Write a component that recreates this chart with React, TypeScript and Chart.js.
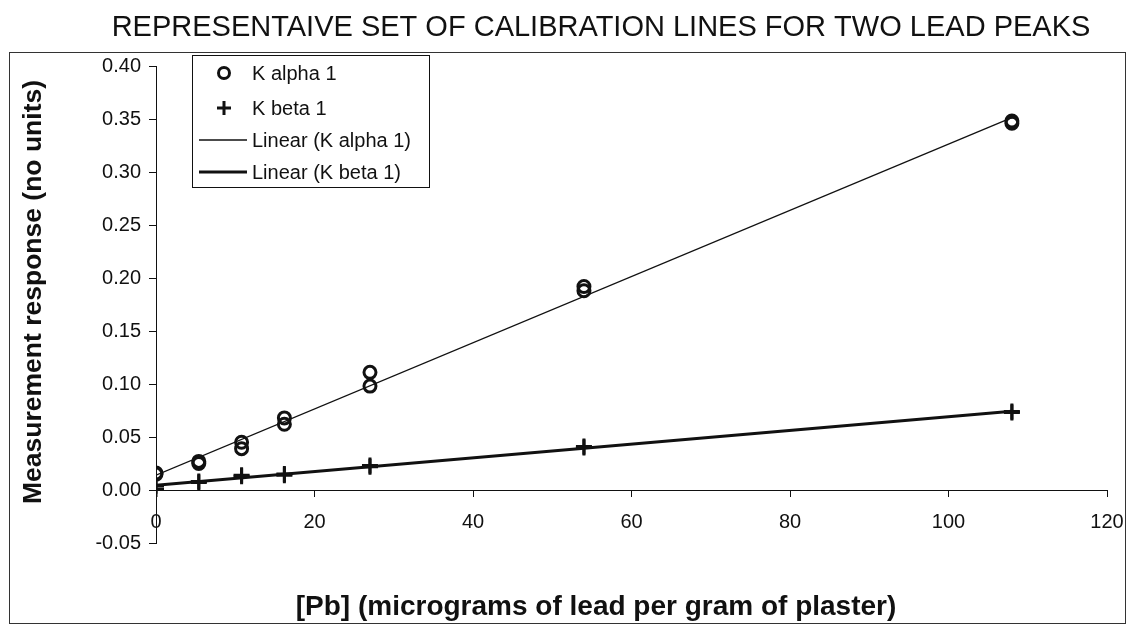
import React, { useEffect, useRef } from "react";
import { Chart, registerables } from "chart.js";

Chart.register(...registerables);

const CHART_TITLE = "REPRESENTAIVE SET OF CALIBRATION LINES FOR TWO LEAD PEAKS";
const X_TITLE = "[Pb] (micrograms of lead per gram of plaster)";
const Y_TITLE = "Measurement response (no units)";

const LEGEND_LABELS = ["K alpha 1", "K beta 1", "Linear (K alpha 1)", "Linear (K beta 1)"];

const alphaX = [0, 0, 5.4, 5.4, 10.8, 10.8, 16.2, 16.2, 27, 27, 54, 54, 108, 108];
const alphaY = [0.016, 0.015, 0.027, 0.025, 0.045, 0.039, 0.068, 0.062, 0.111, 0.098, 0.192, 0.188, 0.348, 0.346];

const betaX = [0, 0, 5.4, 5.4, 10.8, 10.8, 16.2, 16.2, 27, 27, 54, 54, 108, 108];
const betaY = [0.004, 0.001, 0.008, 0.007, 0.014, 0.013, 0.015, 0.014, 0.023, 0.022, 0.041, 0.040, 0.074, 0.073];

const X_MIN = 0;
const X_MAX = 120;
const X_STEP = 20;
const Y_MIN = -0.05;
const Y_MAX = 0.4;
const Y_STEP = 0.05;

const FONT = "'Liberation Sans', Arial, sans-serif";
const INK = "#111";

function linearFit(xs: number[], ys: number[]) {
  const n = xs.length;
  const mx = xs.reduce((a, b) => a + b, 0) / n;
  const my = ys.reduce((a, b) => a + b, 0) / n;
  let sxy = 0;
  let sxx = 0;
  for (let i = 0; i < n; i++) {
    sxy += (xs[i] - mx) * (ys[i] - my);
    sxx += (xs[i] - mx) * (xs[i] - mx);
  }
  const m = sxy / sxx;
  const b = my - m * mx;
  const lo = Math.min(...xs);
  const hi = Math.max(...xs);
  return [
    { x: lo, y: b + m * lo },
    { x: hi, y: b + m * hi },
  ];
}

const toPoints = (xs: number[], ys: number[]) => xs.map((x, i) => ({ x, y: ys[i] }));

const decorPlugin = {
  id: "decor",
  beforeDraw(chart: any) {
    const ctx = chart.ctx;
    ctx.save();
    ctx.fillStyle = "#fff";
    ctx.fillRect(0, 0, chart.width, chart.height);
    ctx.restore();
  },
  afterDraw(chart: any) {
    const ctx = chart.ctx;
    ctx.save();
    // outer frame
    ctx.strokeStyle = "#333";
    ctx.lineWidth = 1;
    ctx.strokeRect(9.5, 52.5, 1116, 571);

    // title
    ctx.fillStyle = INK;
    ctx.textAlign = "center";
    ctx.textBaseline = "middle";
    ctx.font = `29px ${FONT}`;
    ctx.fillText(CHART_TITLE, 601, 28);

    // x axis title
    ctx.font = `bold 28px ${FONT}`;
    ctx.fillText(X_TITLE, 596, 607);

    // y axis title
    ctx.font = `bold 26.5px ${FONT}`;
    ctx.save();
    ctx.translate(34, 292);
    ctx.rotate(-Math.PI / 2);
    ctx.fillText(Y_TITLE, 0, 0);
    ctx.restore();

    // legend
    const bx = 192, by = 55, bw = 237, bh = 132;
    ctx.fillStyle = "#fff";
    ctx.fillRect(bx, by, bw, bh);
    ctx.strokeStyle = INK;
    ctx.lineWidth = 1;
    ctx.strokeRect(bx + 0.5, by + 0.5, bw, bh);
    const rows = [73, 108, 140, 172];
    ctx.fillStyle = INK;
    ctx.font = `20px ${FONT}`;
    ctx.textAlign = "left";
    ctx.textBaseline = "middle";
    LEGEND_LABELS.forEach((t, i) => ctx.fillText(t, 252, rows[i] + 1));
    ctx.strokeStyle = INK;
    ctx.lineWidth = 3;
    ctx.beginPath();
    ctx.arc(224, rows[0], 5.5, 0, Math.PI * 2);
    ctx.stroke();
    ctx.beginPath();
    ctx.moveTo(224 - 7, rows[1]);
    ctx.lineTo(224 + 7, rows[1]);
    ctx.moveTo(224, rows[1] - 7);
    ctx.lineTo(224, rows[1] + 7);
    ctx.stroke();
    ctx.lineWidth = 1.3;
    ctx.beginPath();
    ctx.moveTo(199, rows[2]);
    ctx.lineTo(247, rows[2]);
    ctx.stroke();
    ctx.lineWidth = 3.2;
    ctx.beginPath();
    ctx.moveTo(199, rows[3]);
    ctx.lineTo(247, rows[3]);
    ctx.stroke();
    ctx.restore();
  },
};

export default function App() {
  const ref = useRef<HTMLCanvasElement | null>(null);

  useEffect(() => {
    if (!ref.current) return;
    const chart = new Chart(ref.current, {
      type: "scatter",
      data: {
        datasets: [
          {
            label: "Linear (K alpha 1)",
            data: linearFit(alphaX, alphaY),
            showLine: true,
            borderColor: INK,
            borderWidth: 1.3,
            pointRadius: 0,
            order: 3,
          },
          {
            label: "Linear (K beta 1)",
            data: linearFit(betaX, betaY),
            showLine: true,
            borderColor: INK,
            borderWidth: 3.2,
            pointRadius: 0,
            order: 4,
          },
          {
            label: "K alpha 1",
            data: toPoints(alphaX, alphaY),
            pointStyle: "circle",
            pointRadius: 6,
            borderWidth: 3,
            borderColor: INK,
            backgroundColor: "rgba(0,0,0,0)",
            order: 1,
          },
          {
            label: "K beta 1",
            data: toPoints(betaX, betaY),
            pointStyle: "cross",
            pointRadius: 8,
            borderWidth: 3,
            borderColor: INK,
            backgroundColor: INK,
            order: 2,
          },
        ],
      },
      options: {
        responsive: false,
        animation: false,
        devicePixelRatio: 1,
        layout: { padding: { top: 66, bottom: 83, left: 0, right: 20 } },
        plugins: {
          legend: { display: false },
          title: { display: false },
          tooltip: { enabled: false },
        },
        scales: {
          x: {
            type: "linear",
            min: X_MIN,
            max: X_MAX,
            position: { y: 0 } as any,
            ticks: {
              stepSize: X_STEP,
              color: INK,
              font: { family: FONT, size: 20 },
              padding: 14,
              maxRotation: 0,
            },
            grid: {
              drawOnChartArea: false,
              drawTicks: true,
              tickLength: 6,
              tickColor: INK,
              tickWidth: 1,
            },
            border: { color: INK, width: 1 },
            afterFit: (s: any) => {
              s.paddingLeft = 0;
              s.paddingRight = 0;
            },
          },
          y: {
            type: "linear",
            min: Y_MIN,
            max: Y_MAX,
            ticks: {
              stepSize: Y_STEP,
              color: INK,
              font: { family: FONT, size: 20 },
              padding: 8,
              callback: (v: any) => Number(v).toFixed(2),
            },
            grid: {
              drawOnChartArea: false,
              drawTicks: true,
              tickLength: 7,
              tickColor: INK,
              tickWidth: 1,
            },
            border: { color: INK, width: 1 },
            afterFit: (s: any) => {
              s.width = 156;
              s.paddingTop = 0;
              s.paddingBottom = 0;
            },
          },
        },
      },
      plugins: [decorPlugin],
    });
    return () => chart.destroy();
  }, []);

  return (
    <div style={{ position: "absolute", left: 0, top: 0, width: 1127, height: 626, background: "#fff" }}>
      <canvas ref={ref} width={1127} height={626} style={{ display: "block" }} />
    </div>
  );
}
